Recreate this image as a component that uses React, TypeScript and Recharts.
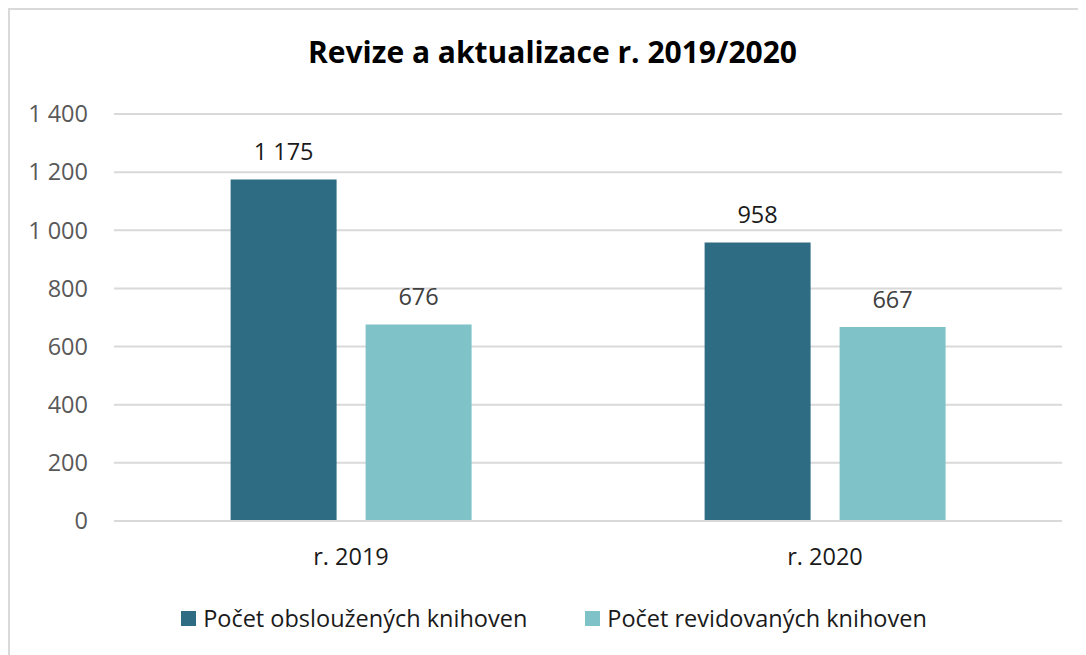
import { BarChart, Bar, XAxis, YAxis, CartesianGrid, LabelList } from "recharts"

const categories = ["r. 2019", "r. 2020"]
const servedLibraries = [1175, 958]
const revisedLibraries = [676, 667]
const yTicks = [0, 200, 400, 600, 800, 1000, 1200, 1400]

const seriesNames = ["Počet obsloužených knihoven", "Počet revidovaných knihoven"]
const seriesColors = ["#2E6C84", "#7FC3C9"]

const data = categories.map((cat, i) => ({
  cat,
  served: servedLibraries[i],
  revised: revisedLibraries[i]
}))

const fmt = (v: number) => String(v).replace(/\B(?=(\d{3})+(?!\d))/g, " ")

const font = "'Open Sans', sans-serif"

export default function App() {
  return (
    <div style={{ width: 1076, height: 645, borderTop: "2px solid #D9D9D9", borderLeft: "2px solid #D9D9D9", position: "relative", background: "#fff" }}>
      <div style={{ position: "absolute", left: 0, width: 1085, top: 21, textAlign: "center", fontFamily: font, fontWeight: 700, fontSize: 30, color: "#000" }}>
        Revize a aktualizace r. 2019/2020
      </div>
      <BarChart
        width={1076}
        height={645}
        data={data}
        margin={{ top: 104, right: 24, bottom: 104, left: 0 }}
        barGap={29}
        barCategoryGap="24.6%"
      >
        <CartesianGrid vertical={false} stroke="#D9D9D9" strokeWidth={2} />
        <XAxis
          dataKey="cat"
          height={30}
          axisLine={{ stroke: "#D9D9D9", strokeWidth: 2 }}
          tickLine={false}
          tickSize={0}
          tickMargin={27}
          tick={{ fill: "#1a1a1a", fontSize: 23.5, fontFamily: font }}
        />
        <YAxis
          width={104}
          domain={[0, 1400]}
          ticks={yTicks}
          axisLine={false}
          tickLine={false}
          tickSize={0}
          tickMargin={26}
          tickFormatter={fmt}
          tick={{ fill: "#595959", fontSize: 23.5, fontFamily: font }}
        />
        <Bar dataKey="served" name={seriesNames[0]} fill={seriesColors[0]} isAnimationActive={false}>
          <LabelList dataKey="served" position="top" offset={19} formatter={(v: any) => fmt(v)} style={{ fill: "#1a1a1a", fontSize: 23.5, fontFamily: font }} />
        </Bar>
        <Bar dataKey="revised" name={seriesNames[1]} fill={seriesColors[1]} isAnimationActive={false}>
          <LabelList dataKey="revised" position="top" offset={19} formatter={(v: any) => fmt(v)} style={{ fill: "#404040", fontSize: 23.5, fontFamily: font }} />
        </Bar>
      </BarChart>
      <div style={{ position: "absolute", left: 0, width: 1088, top: 592, display: "flex", justifyContent: "center", gap: 58, fontFamily: font, fontSize: 23.5, color: "#1a1a1a" }}>
        {seriesNames.map((name, i) => (
          <div key={name} style={{ display: "flex", alignItems: "center" }}>
            <span style={{ display: "inline-block", width: 15, height: 15, background: seriesColors[i], marginRight: 7 }} />
            <span>{name}</span>
          </div>
        ))}
      </div>
    </div>
  )
}
